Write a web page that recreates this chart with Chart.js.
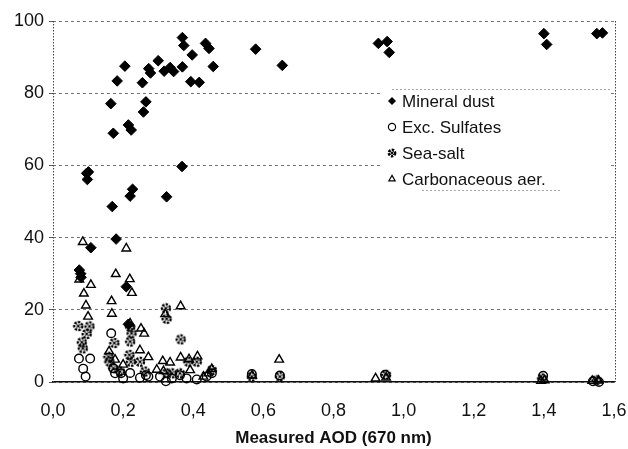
<!DOCTYPE html>
<html>
<head>
<meta charset="utf-8">
<script src="https://cdn.jsdelivr.net/npm/chart.js@4/dist/chart.umd.min.js"></script>
<style>
  html, body { margin: 0; padding: 0; background: #fff; }
  #wrap { width: 628px; height: 449px; }
</style>
</head>
<body>
<div id="wrap"><canvas id="aodChart" width="628" height="449"></canvas></div>
<script>
// Values: measured AOD (x) vs contribution in % (y)
const xTicks = [0, 0.2, 0.4, 0.6, 0.8, 1.0, 1.2, 1.4, 1.6];
const yTicks = [0, 20, 40, 60, 80, 100];

const seriesNames = ['Mineral dust', 'Exc. Sulfates', 'Sea-salt', 'Carbonaceous aer.'];

const dustAod = [0.075, 0.079, 0.080, 0.096, 0.101, 0.098, 0.108, 0.165, 0.169, 0.172, 0.180, 0.183,
  0.205, 0.209, 0.215, 0.223, 0.227, 0.220, 0.255, 0.258, 0.265, 0.273, 0.278, 0.300, 0.317, 0.324,
  0.334, 0.344, 0.368, 0.369, 0.373, 0.369, 0.393, 0.397, 0.417, 0.435, 0.445, 0.457, 0.578, 0.654,
  0.928, 0.953, 0.959, 1.400, 1.408, 1.551, 1.567, 0.215];
const dustPct = [31, 30, 29, 57.8, 58.2, 56.1, 37.2, 77.1, 48.6, 68.9, 39.6, 83.4,
  87.5, 26.4, 71.2, 69.8, 53.4, 51.5, 82.9, 74.8, 77.6, 86.8, 85.6, 89, 86.1, 51.3,
  87.1, 86, 59.7, 95.4, 93.2, 87.3, 83.2, 90.6, 83, 93.8, 92.4, 87.4, 92.2, 87.7,
  93.8, 94.3, 91.3, 96.5, 93.5, 96.5, 96.7, 16];

const sulfAod = [0.166, 0.074, 0.106, 0.086, 0.093, 0.172, 0.177, 0.194, 0.200, 0.220, 0.248, 0.265,
  0.272, 0.305, 0.322, 0.339, 0.362, 0.381, 0.410, 0.438, 0.453, 0.567, 0.647, 0.947, 1.398, 1.540, 1.557];
const sulfPct = [13.5, 6.5, 6.5, 3.7, 1.5, 3.8, 2.4, 2.4, 1, 2.5, 1.2, 1.9,
  1.5, 1.5, 0.2, 1, 1.9, 1, 0.7, 1.5, 2.4, 2.2, 1.8, 2, 1.7, 0.2, 0];

const saltAod = [0.072, 0.104, 0.096, 0.082, 0.085, 0.220, 0.224, 0.220, 0.175, 0.158, 0.161, 0.172,
  0.218, 0.222, 0.248, 0.191, 0.262, 0.322, 0.324, 0.364, 0.324, 0.339, 0.362, 0.386, 0.410, 0.453,
  0.567, 0.647, 0.950, 1.395, 1.550];
const saltPct = [15.5, 15.4, 13.3, 11, 9.3, 15.2, 13.5, 11.2, 10.8, 7, 5.6, 3.8,
  7.5, 5.6, 5.6, 2.9, 2.9, 20.4, 17.5, 11.8, 2.4, 2.4, 2.4, 5.6, 5.6, 3.3,
  1.5, 1.5, 2, 1, 0.5];

const carbAod = [0.085, 0.209, 0.075, 0.179, 0.219, 0.108, 0.225, 0.088, 0.167, 0.094, 0.168, 0.100,
  0.320, 0.364, 0.220, 0.251, 0.260, 0.248, 0.272, 0.160, 0.177, 0.200, 0.313, 0.334, 0.364, 0.388,
  0.412, 0.296, 0.315, 0.391, 0.429, 0.443, 0.453, 0.568, 0.645, 0.920, 0.950, 1.392, 1.402, 1.538, 1.556];
const carbPct = [38.8, 37, 28.4, 29.9, 28.5, 26.9, 24.7, 24.5, 22.4, 21.2, 18.9, 18.1,
  18.8, 21, 16.2, 14.8, 13.4, 8.8, 6.9, 8.5, 6.2, 4.8, 5.8, 5.4, 6.8, 6.3,
  7.1, 3.4, 3, 3.3, 1.5, 2.4, 3.6, 1.8, 6.2, 1, 1.2, 0.3, 0.5, 0.3, 0.4];

const toPoints = (xs, ys) => xs.map((x, i) => ({ x: x, y: ys[i] }));

// dotted ring marker for sea-salt
function makeSaltMark(size, r) {
    const cv = document.createElement('canvas');
    cv.width = size;
    cv.height = size;
    const c = cv.getContext('2d');
    const m = size / 2;
    c.strokeStyle = '#000';
    c.lineWidth = 2.4;
    c.setLineDash([2.4, 1.2]);
    c.beginPath();
    c.arc(m, m, r, 0, Math.PI * 2);
    c.stroke();
    c.setLineDash([]);
    c.lineWidth = 1.3;
    c.beginPath();
    c.moveTo(m - 1.6, m - 1.6); c.lineTo(m + 1.6, m + 1.6);
    c.moveTo(m + 1.6, m - 1.6); c.lineTo(m - 1.6, m + 1.6);
    c.stroke();
    return cv;
}
const saltMark = makeSaltMark(12, 4);
const saltMarkSmall = makeSaltMark(10, 3.2);

const FONT = "'Liberation Sans', Arial, sans-serif";

const markerStyles = [
    { pointStyle: 'rectRot', radius: 5.3, fill: '#000', borderWidth: 1 },
    { pointStyle: 'circle', radius: 4.3, fill: 'rgba(0,0,0,0)', borderWidth: 1.4 },
    { pointStyle: saltMark, radius: 5, fill: 'rgba(0,0,0,0)', borderWidth: 1 },
    { pointStyle: 'triangle', radius: 5, fill: 'rgba(0,0,0,0)', borderWidth: 1.4 }
];
const legendStyles = ['rectRot', 'circle', saltMarkSmall, 'triangle'];

const allPoints = [
    toPoints(dustAod, dustPct),
    toPoints(sulfAod, sulfPct),
    toPoints(saltAod, saltPct),
    toPoints(carbAod, carbPct)
];

const frameLines = {
    id: 'frameLines',
    beforeDatasetsDraw(chart) {
        const { ctx, chartArea: a } = chart;
        ctx.save();
        ctx.strokeStyle = '#444';
        ctx.lineWidth = 1;
        ctx.setLineDash([1.5, 1.5]);
        ctx.beginPath();
        ctx.moveTo(a.left + 0.5, a.top);
        ctx.lineTo(a.left + 0.5, a.bottom);
        ctx.moveTo(a.right + 1.5, a.top);
        ctx.lineTo(a.right + 1.5, a.bottom);
        ctx.stroke();

        // legend box inside the plot
        const lx = 382, ly = 89, lw = 228, lh = 101;
        ctx.setLineDash([]);
        ctx.fillStyle = '#fff';
        ctx.fillRect(lx, ly, lw, lh);
        ctx.strokeStyle = '#aaa';
        ctx.setLineDash([2, 2]);
        ctx.beginPath();
        ctx.moveTo(lx + 10, ly + 0.5); ctx.lineTo(lx + lw, ly + 0.5);
        ctx.moveTo(lx + 40, ly + lh + 0.5); ctx.lineTo(lx + 180, ly + lh + 0.5);
        ctx.stroke();
        ctx.setLineDash([]);

        ctx.font = '17px ' + FONT;
        ctx.textBaseline = 'middle';
        ctx.textAlign = 'left';
        seriesNames.forEach((name, i) => {
            const y = 101 + i * 26;
            ctx.fillStyle = i === 0 ? '#000' : '#fff';
            ctx.strokeStyle = '#000';
            ctx.lineWidth = 1.2;
            Chart.helpers.drawPoint(ctx, {
                pointStyle: legendStyles[i],
                radius: i === 0 ? 4 : 3.6,
                rotation: 0,
                borderWidth: i === 0 ? 0 : 1.2
            }, 392, y);
            ctx.fillStyle = '#111';
            ctx.fillText(name, 402, y + 1);
        });
        ctx.restore();
    }
};

new Chart(document.getElementById('aodChart'), {
    type: 'scatter',
    data: {
        datasets: seriesNames.map((name, i) => ({
            label: name,
            data: allPoints[i],
            pointStyle: markerStyles[i].pointStyle,
            pointRadius: markerStyles[i].radius,
            pointBackgroundColor: markerStyles[i].fill,
            pointBorderColor: '#000',
            pointBorderWidth: markerStyles[i].borderWidth,
            clip: false
        }))
    },
    options: {
        responsive: false,
        animation: false,
        layout: { padding: { left: 0, right: 14, top: 21, bottom: 0 } },
        plugins: {
            legend: { display: false },
            tooltip: { enabled: false }
        },
        scales: {
            x: {
                type: 'linear',
                min: 0,
                max: 1.6,
                afterBuildTicks: (s) => { s.ticks = xTicks.map(v => ({ value: v })); },
                ticks: {
                    callback: (v) => Number(v).toFixed(1).replace('.', ','),
                    font: { size: 18, family: FONT },
                    color: '#111',
                    padding: 18,
                    maxRotation: 0
                },
                grid: { display: false, drawTicks: false },
                border: { display: true, color: '#111', width: 1.5 },
                title: {
                    display: true,
                    text: 'Measured AOD (670 nm)',
                    font: { size: 17, weight: 'bold', family: FONT },
                    color: '#111',
                    padding: { top: 0, bottom: 0 }
                },
                afterFit: (s) => { s.height = 67; s.paddingLeft = 0; s.paddingRight = 0; }
            },
            y: {
                min: 0,
                max: 100,
                afterBuildTicks: (s) => { s.ticks = yTicks.map(v => ({ value: v })); },
                ticks: {
                    font: { size: 18, family: FONT },
                    color: '#111',
                    padding: 5
                },
                grid: { color: '#777', lineWidth: 1, tickLength: 4, tickColor: '#555' },
                border: { display: false, dash: [3, 3] },
                afterFit: (s) => { s.width = 53; s.paddingTop = 0; s.paddingBottom = 0; }
            }
        }
    },
    plugins: [frameLines]
});
</script>
</body>
</html>
